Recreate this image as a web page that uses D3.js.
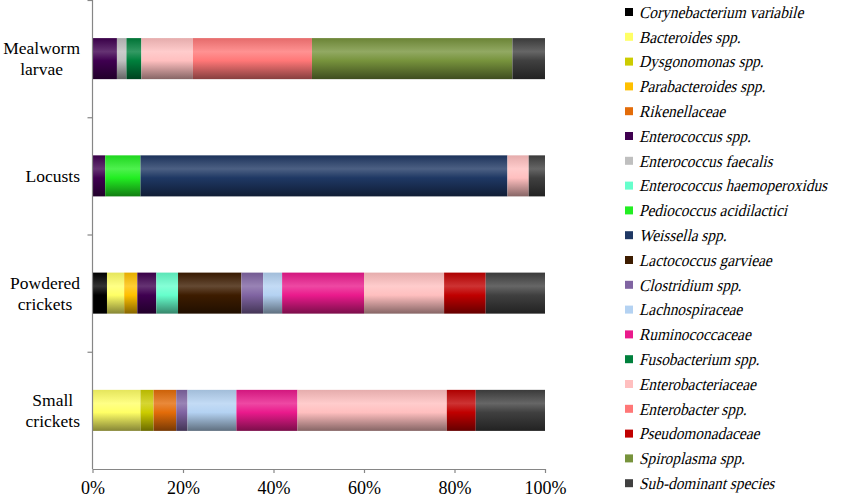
<!DOCTYPE html>
<html>
<head>
<meta charset="utf-8">
<script src="https://cdn.jsdelivr.net/npm/d3@7"></script>
<style>
  html, body { margin: 0; padding: 0; background: #fff; }
  svg { display: block; }
</style>
</head>
<body>
<svg id="chart" width="850" height="497"></svg>
<script>
const categories = ["Mealworm larvae", "Locusts", "Powdered crickets", "Small crickets"];
const categoryLines = [["Mealworm", "larvae"], ["Locusts"], ["Powdered", "crickets"], ["Small", "crickets"]];
const species = [
  "Corynebacterium variabile", "Bacteroides spp.", "Dysgonomonas spp.", "Parabacteroides spp.",
  "Rikenellaceae", "Enterococcus spp.", "Enterococcus faecalis", "Enterococcus haemoperoxidus",
  "Pediococcus acidilactici", "Weissella spp.", "Lactococcus garvieae", "Clostridium spp.",
  "Lachnospiraceae", "Ruminococcaceae", "Fusobacterium spp.", "Enterobacteriaceae",
  "Enterobacter spp.", "Pseudomonadaceae", "Spiroplasma spp.", "Sub-dominant species"
];
const colors = [
  "#000000", "#ffff66", "#cccc00", "#ffc000",
  "#e36c09", "#3f0050", "#bfbfbf", "#66ffcc",
  "#22ee22", "#1f3864", "#3d1c00", "#8064a2",
  "#b4d2f2", "#ea1a8c", "#00803c", "#ffbfbf",
  "#ff7777", "#c00000", "#77933c", "#404040"
];
// values per species, in order of categories: Mealworm, Locusts, Powdered, Small
const corynebacterium   = [0, 0, 3.2, 0];
const bacteroides       = [0, 0, 3.8, 10.6];
const dysgonomonas      = [0, 0, 0, 2.9];
const parabacteroides   = [0, 0, 2.9, 0];
const rikenellaceae     = [0, 0, 0, 5.0];
const enterococcusSpp   = [5.4, 2.8, 4.2, 0];
const eFaecalis         = [2.1, 0, 0, 0];
const eHaemoperoxidus   = [0, 0, 4.8, 0];
const pediococcus       = [0, 7.8, 0, 0];
const weissella         = [0, 81.1, 0, 0];
const lactococcus       = [0, 0, 14.0, 0];
const clostridium       = [0, 0, 4.8, 2.5];
const lachnospiraceae   = [0, 0, 4.2, 10.8];
const ruminococcaceae   = [0, 0, 18.1, 13.5];
const fusobacterium     = [3.3, 0, 0, 0];
const enterobacteriaceae= [11.4, 4.7, 17.7, 33.0];
const enterobacter      = [26.3, 0, 0, 0];
const pseudomonadaceae  = [0, 0, 9.2, 6.4];
const spiroplasma       = [44.3, 0, 0, 0];
const subDominant       = [7.2, 3.6, 13.1, 15.3];
const xTicks = [0, 20, 40, 60, 80, 100];
const xTickLabels = ["0%", "20%", "40%", "60%", "80%", "100%"];

const seriesValues = [corynebacterium, bacteroides, dysgonomonas, parabacteroides, rikenellaceae,
  enterococcusSpp, eFaecalis, eHaemoperoxidus, pediococcus, weissella, lactococcus, clostridium,
  lachnospiraceae, ruminococcaceae, fusobacterium, enterobacteriaceae, enterobacter, pseudomonadaceae,
  spiroplasma, subDominant];

const table = categories.map((c, i) => {
  const row = { category: c };
  species.forEach((s, j) => row[s] = seriesValues[j][i]);
  return row;
});

const serif = "'Liberation Serif', 'Times New Roman', serif";

const svg = d3.select("#chart");
const axisColor = "#868686";

const x = d3.scaleLinear().domain([0, 100]).range([92.5, 545]);
const y = d3.scaleBand().domain(categories).range([0, 469]).paddingInner(0.65).paddingOuter(0.325);

// gradients
const defs = svg.append("defs");
colors.forEach((c, i) => {
  const base = d3.color(c);
  const g = defs.append("linearGradient").attr("id", "grad" + i)
    .attr("x1", 0).attr("y1", 0).attr("x2", 0).attr("y2", 1);
  const lighter = d3.interpolateRgb(c, "#ffffff")(0.2);
  g.append("stop").attr("offset", "0%").attr("stop-color", base.darker(0.3));
  g.append("stop").attr("offset", "33%").attr("stop-color", lighter);
  g.append("stop").attr("offset", "55%").attr("stop-color", c);
  g.append("stop").attr("offset", "100%").attr("stop-color", base.darker(1.8));
});

const stack = d3.stack().keys(species);
const stacked = stack(table);

svg.append("g").selectAll("g").data(stacked).join("g")
  .attr("fill", (d, i) => `url(#grad${i})`)
  .selectAll("rect").data(d => d.filter(p => p[1] - p[0] > 0)).join("rect")
  .attr("x", d => x(d[0]))
  .attr("y", d => y(d.data.category))
  .attr("width", d => x(d[1]) - x(d[0]))
  .attr("height", y.bandwidth());

// y axis line with ticks between categories
const yAxisG = svg.append("g");
yAxisG.append("line").attr("x1", x(0)).attr("x2", x(0)).attr("y1", 0).attr("y2", 469)
  .attr("stroke", axisColor).attr("stroke-width", 1.2);
const boundaries = [0, 1, 2, 3].map(i => y.step() * i);
yAxisG.selectAll("line.t").data(boundaries).join("line").attr("class", "t")
  .attr("x1", x(0) - 5).attr("x2", x(0)).attr("y1", d => d + 0.5).attr("y2", d => d + 0.5)
  .attr("stroke", axisColor).attr("stroke-width", 1.2);

// category labels
const catFont = 17.5;
const labelRight = 80;
categories.forEach((c, i) => {
  const lines = categoryLines[i];
  const widths = lines.map(l => {
    const m = svg.append("text").attr("font-size", catFont).attr("font-family", serif).text(l);
    const w = m.node().getComputedTextLength(); m.remove(); return w;
  });
  const maxW = d3.max(widths);
  const cx = labelRight - maxW / 2;
  const cy = y(c) + y.bandwidth() / 2;
  const lh = 21;
  const t = svg.append("text").attr("font-size", catFont).attr("font-family", serif)
    .attr("text-anchor", "middle").attr("fill", "#000");
  lines.forEach((l, k) => {
    t.append("tspan").attr("x", cx)
      .attr("y", cy + (k - (lines.length - 1) / 2) * lh)
      .attr("dy", "0.35em").text(l);
  });
});

// x axis
const xAxis = d3.axisBottom(x).tickValues(xTicks).tickFormat((d, i) => xTickLabels[i]).tickSize(4).tickSizeOuter(0);
const xg = svg.append("g").attr("transform", "translate(0,469)").call(xAxis);
xg.select(".domain").attr("stroke", axisColor).attr("stroke-width", 1.2);
xg.selectAll(".tick line").attr("stroke", axisColor).attr("stroke-width", 1.2);
xg.selectAll(".tick text").attr("font-size", 18).attr("font-family", serif)
  .attr("fill", "#000").attr("y", 12).attr("dy", "0.71em");

// legend (oblique serif via skew, since no serif italic face is installed)
const legend = svg.append("g");
const items = legend.selectAll("g").data(species).join("g")
  .attr("transform", (d, i) => `translate(625, ${12 + i * 24.8})`);
items.append("rect").attr("x", 0).attr("y", -4).attr("width", 8).attr("height", 8)
  .attr("fill", (d, i) => colors[i]);
items.append("text").attr("transform", "translate(0,5.8) skewX(-14)")
  .attr("x", 14).attr("y", 0).attr("font-size", 16.8)
  .attr("font-family", serif).attr("fill", "#000")
  .each(function(d) {
    const el = d3.select(this).text(d);
    const w = this.getComputedTextLength();
    el.attr("textLength", w * 0.915).attr("lengthAdjust", "spacingAndGlyphs");
  });
</script>
</body>
</html>
